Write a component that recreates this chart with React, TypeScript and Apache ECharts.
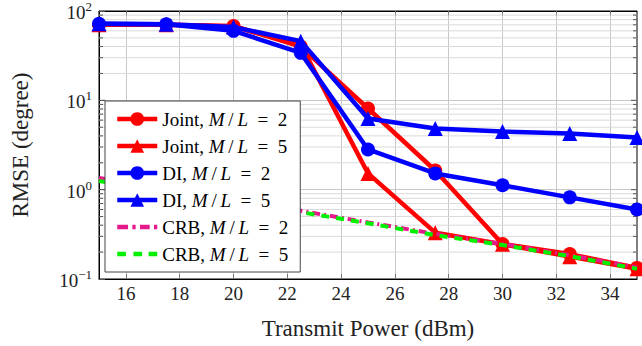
import React, { useEffect, useRef } from "react";
import * as echarts from "echarts";

const powers = [15, 17.5, 20, 22.5, 25, 27.5, 30, 32.5, 35];
const jointM2 = [70, 70, 68, 40, 8.1, 1.64, 0.246, 0.19, 0.133];
const jointM5 = [70, 70, 67, 42, 1.52, 0.33, 0.245, 0.178, 0.13];
const diM2 = [72, 71, 60, 34, 2.82, 1.52, 1.12, 0.82, 0.6];
const diM5 = [72, 71, 66, 46, 6.25, 4.83, 4.48, 4.25, 3.84];
const crbM2 = [1.35, 1.02, 0.78, 0.58, 0.43, 0.32, 0.247, 0.185, 0.135];
const crbM5 = [1.25, 0.97, 0.75, 0.56, 0.42, 0.31, 0.24, 0.18, 0.13];

const xTicks = [16, 18, 20, 22, 24, 26, 28, 30, 32, 34];
const majorY = [1, 10];
const minorY = [
  0.2, 0.3, 0.4, 0.5, 0.6, 0.7, 0.8, 0.9,
  2, 3, 4, 5, 6, 7, 8, 9,
  20, 30, 40, 50, 60, 70, 80, 90,
];

const names = [
  "Joint, M/L = 2",
  "Joint, M/L = 5",
  "DI, M/L = 2",
  "DI, M/L = 5",
  "CRB, M/L = 2",
  "CRB, M/L = 5",
];

const SERIF = "'Liberation Serif', 'Times New Roman', serif";
const MAGENTA = "#e6198c";
const GREEN = "#00f000";

export default function App() {
  const ref = useRef<HTMLDivElement>(null);
  useEffect(() => {
    if (!ref.current) return;
    const chart = echarts.init(ref.current, undefined, { renderer: "svg" });
    const pair = (ys: number[]) => powers.map((x, i) => [x, ys[i]]);
    const lineSeries = (
      name: string,
      ys: number[],
      color: string,
      symbol: string,
      size: number,
      z: number
    ) => ({
      name,
      type: "line",
      data: pair(ys),
      symbol,
      symbolSize: size,
      showSymbol: true,
      lineStyle: { color, width: 4.5 },
      itemStyle: { color },
      z,
    });
    const tickRender = (withGrid: boolean) => (params: any, api: any) => {
      const y = api.coord([15, api.value(1)])[1];
      const cs = params.coordSys;
      const x0 = cs.x;
      const x1 = cs.x + cs.width;
      const len = withGrid ? 4 : 6;
      const children: any[] = [];
      if (withGrid)
        children.push({ type: "line", shape: { x1: x0, y1: y, x2: x1, y2: y }, style: { stroke: "#dadada", lineWidth: 1 } });
      children.push({ type: "line", shape: { x1: x0, y1: y, x2: x0 + len, y2: y }, style: { stroke: "#555", lineWidth: 1 } });
      children.push({ type: "line", shape: { x1: x1 - len, y1: y, x2: x1, y2: y }, style: { stroke: "#555", lineWidth: 1 } });
      return { type: "group", children };
    };
    chart.setOption({
      animation: false,
      backgroundColor: "#fff",
      grid: {
        left: 99,
        right: 5,
        top: 10,
        bottom: 67,
        show: true,
        borderColor: "#000",
        borderWidth: 1,
        backgroundColor: "transparent",
      },
      legend: {
        orient: "vertical",
        left: 105,
        top: 101,
        z: 20,
        data: [
          { name: names[0] },
          { name: names[1] },
          { name: names[2] },
          { name: names[3] },
          {
            name: names[4],
            icon: "path://M0,0h10v4h-10z M14,0h3v4h-3z M21,0h9v4h-9z M34,0h3v4h-3z",
          },
          {
            name: names[5],
            icon: "path://M0,0h8v4h-8z M15,0h8v4h-8z M29,0h8v4h-8z",
          },
        ],
        itemWidth: 40,
        itemHeight: 17,
        itemGap: 7,
        padding: [8, 12, 8, 10],
        backgroundColor: "#fff",
        borderColor: "#444",
        borderWidth: 1,
        borderRadius: 0,
        lineStyle: { width: 4.5 },
        textStyle: {
          fontFamily: SERIF,
          fontSize: 19,
          color: "#000",
          lineHeight: 20,
          rich: {
            i: { fontFamily: SERIF, fontSize: 19, fontStyle: "italic", color: "#000", lineHeight: 20 },
          },
        },
        formatter: (name: string) =>
          name.replace("M/L = ", "{i|M}\u2009/\u2009{i|L}  =  "),
      },
      xAxis: [
        {
          type: "value",
          min: 15,
          max: 35,
          position: "bottom",
          name: "Transmit Power (dBm)",
          nameLocation: "middle",
          nameGap: 38,
          nameTextStyle: { fontFamily: SERIF, fontSize: 23, color: "#222" },
          axisLine: { show: true, lineStyle: { color: "#000", width: 1 } },
          axisTick: {
            show: true,
            inside: true,
            length: 5,
            customValues: xTicks,
            lineStyle: { color: "#777" },
          },
          axisLabel: {
            customValues: xTicks,
            margin: 5,
            fontFamily: SERIF,
            fontSize: 19,
            color: "#222",
          },
          splitLine: { show: true, lineStyle: { color: "#c8c8c8", width: 1 } },
        },
        {
          type: "value",
          min: 15,
          max: 35,
          position: "top",
          axisLine: { show: true, lineStyle: { color: "#000", width: 1 } },
          axisTick: {
            show: true,
            inside: true,
            length: 5,
            customValues: xTicks,
            lineStyle: { color: "#777" },
          },
          axisLabel: { show: false },
          splitLine: { show: false },
        },
      ],
      yAxis: {
        type: "log",
        logBase: 10,
        min: 0.1,
        max: 100,
        name: "RMSE (degree)",
        nameLocation: "middle",
        nameGap: 67,
        nameTextStyle: { fontFamily: SERIF, fontSize: 23, color: "#222" },
        axisLine: { show: true, lineStyle: { color: "#000", width: 1 } },
        axisTick: { show: true, inside: true, length: 6, lineStyle: { color: "#555" } },
        axisLabel: {
          margin: 7,
          fontFamily: SERIF,
          fontSize: 19,
          color: "#222",
          formatter: (v: number) => {
            const e = Math.round(Math.log10(v));
            return `{b|10}{s|${e < 0 ? "\u2212" + -e : e}}`;
          },
          rich: {
            b: { fontFamily: SERIF, fontSize: 19, color: "#222", padding: [3, 0, 0, 0], verticalAlign: "bottom" },
            s: { fontFamily: SERIF, fontSize: 13, color: "#222", verticalAlign: "top" },
          },
        },
        splitLine: { show: true, lineStyle: { color: "#c8c8c8", width: 1 } },
      },
      series: [
        {
          name: "minorGrid",
          type: "custom",
          silent: true,
          z: 1,
          data: minorY.map((v) => [15, v]),
          encode: { x: 0, y: 1 },
          renderItem: tickRender(true),
        },
        {
          name: "majorTicks",
          type: "custom",
          silent: true,
          z: 1,
          data: majorY.map((v) => [15, v]),
          encode: { x: 0, y: 1 },
          renderItem: tickRender(false),
        },
        lineSeries(names[0], jointM2, "#ff0000", "circle", 14, 2),
        lineSeries(names[1], jointM5, "#ff0000", "triangle", 15, 2),
        lineSeries(names[2], diM2, "#0000ff", "circle", 14, 3),
        lineSeries(names[3], diM5, "#0000ff", "triangle", 15, 3),
        {
          name: names[4],
          type: "line",
          data: pair(crbM2),
          symbol: "none",
          z: 4,
          lineStyle: { color: MAGENTA, width: 4, type: [8, 4, 2, 4] },
          itemStyle: { color: MAGENTA },
        },
        {
          name: names[5],
          type: "line",
          data: pair(crbM5),
          symbol: "none",
          z: 4,
          lineStyle: { color: GREEN, width: 4, type: [8, 7] },
          itemStyle: { color: GREEN },
        },
      ],
    });
    return () => chart.dispose();
  }, []);
  return <div ref={ref} style={{ width: 642, height: 346, position: "absolute", left: 0, top: 0 }} />;
}
